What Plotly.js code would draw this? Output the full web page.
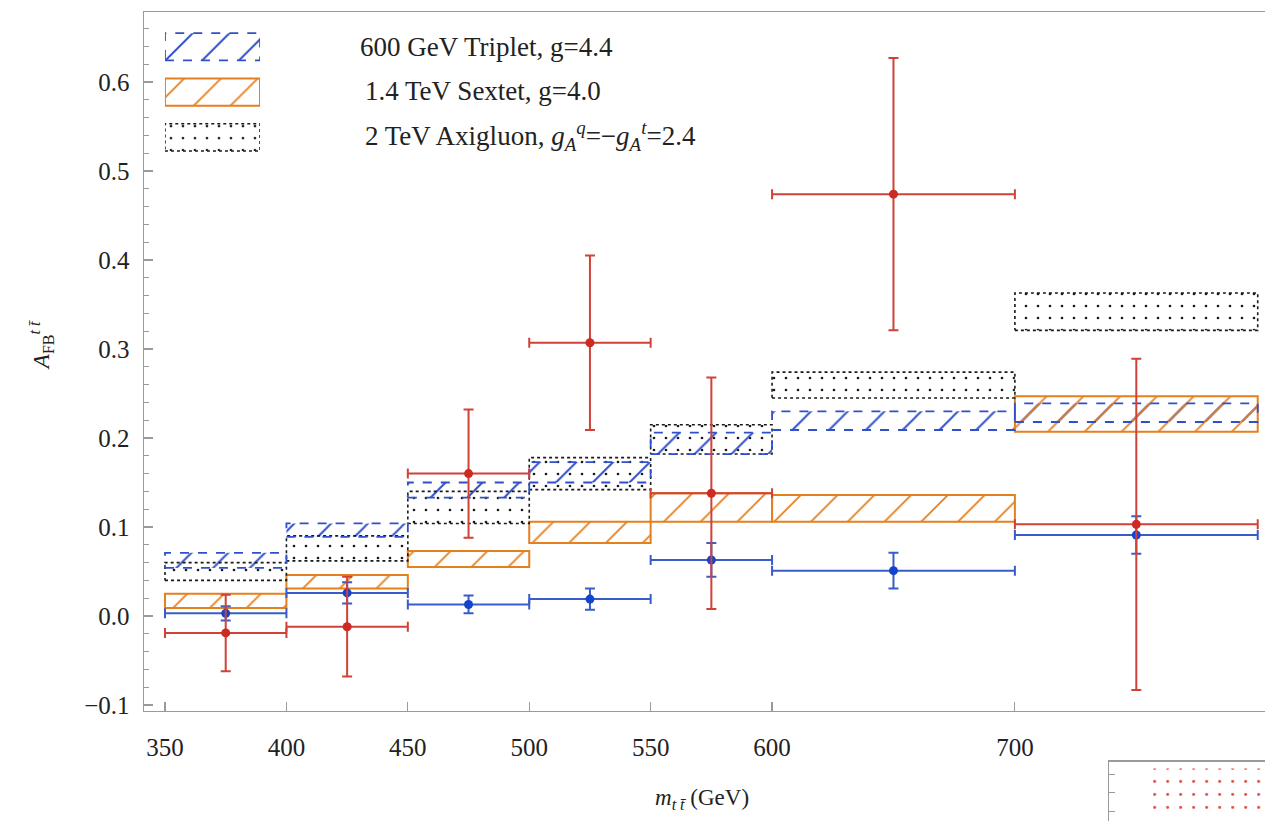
<!DOCTYPE html>
<html>
<head>
<meta charset="utf-8">
<script src="https://cdn.plot.ly/plotly-3.0.1.min.js"></script>
<style>html,body{margin:0;padding:0;background:#fff;overflow:hidden}</style>
</head>
<body>
<div id="chart" style="width:1265px;height:821px"></div>
<script>
// ---- data ----
const binLo = [350, 400, 450, 500, 550, 600, 700];
const binHi = [400, 450, 500, 550, 600, 700, 800];
const xTicks = [350, 400, 450, 500, 550, 600, 700];

// measured (red) and SM (blue) points
const redY   = [-0.019, -0.012, 0.160, 0.307, 0.138, 0.474, 0.103];
const redErr = [0.043, 0.056, 0.072, 0.098, 0.130, 0.153, 0.186];
const blueY   = [0.003, 0.026, 0.013, 0.019, 0.063, 0.051, 0.091];
const blueErr = [0.008, 0.012, 0.010, 0.012, 0.019, 0.020, 0.021];

// model bands
const triLo = [0.054, 0.089, 0.133, 0.150, 0.182, 0.209, 0.218];
const triHi = [0.071, 0.104, 0.150, 0.173, 0.206, 0.230, 0.239];
const sexLo = [0.009, 0.031, 0.055, 0.082, 0.106, 0.106, 0.207];
const sexHi = [0.025, 0.046, 0.073, 0.106, 0.138, 0.136, 0.247];
const axiLo = [0.040, 0.062, 0.104, 0.142, 0.182, 0.245, 0.321];
const axiHi = [0.060, 0.090, 0.140, 0.178, 0.215, 0.274, 0.363];

const legendNames = [
  '600 GeV Triplet, g=4.4',
  '1.4 TeV Sextet, g=4.0',
  '2 TeV Axigluon, <i>g</i><sub><i>A</i></sub><sup><i>q</i></sup>=\u2212<i>g</i><sub><i>A</i></sub><sup><i>t</i></sup>=2.4'
];

// ---- styles ----
const FONT = 'Liberation Serif';
const BLUE_H = '#2f50c8', ORANGE = '#e5801f', BLACK = '#1a1a1a';
const RED_L = '#d04238', RED_M = '#cc2a22', BLUE_L = '#3a5cc8', BLUE_M = '#1444cc';

const centers = binLo.map((l, i) => (l + binHi[i]) / 2);
const widths = binLo.map((l, i) => binHi[i] - l);
const halfW = widths.map(w => w / 2);

function band(lo, hi, color, shape, size, sol, lineW, xa, ya, xs, ws, bg) {
  return {
    type: 'bar', x: xs, width: ws, base: lo, y: hi.map((h, i) => h - lo[i]),
    xaxis: xa, yaxis: ya, hoverinfo: 'skip', cliponaxis: false,
    marker: {color: bg || 'rgba(0,0,0,0)', line: {width: lineW, color: color},
      pattern: {shape: shape, fgcolor: color, fgopacity: 1, bgcolor: 'rgba(0,0,0,0)', size: size, solidity: sol, fillmode: 'overlay'}}
  };
}
function border(lo, hi, x0s, x1s, color, dash, w, xa, ya) {
  const X = [], Y = [];
  lo.forEach((l, i) => {
    X.push(x0s[i], x1s[i], x1s[i], x0s[i], x0s[i], null);
    Y.push(l, l, hi[i], hi[i], l, null);
  });
  return {type: 'scatter', mode: 'lines', x: X, y: Y, xaxis: xa, yaxis: ya, hoverinfo: 'skip',
    cliponaxis: false, line: {color: color, dash: dash, width: w}};
}

const traces = [];
// axigluon (black dotted)
traces.push(band(axiLo, axiHi, BLACK, '.', 12, 0.04, 0, 'x', 'y', centers, widths));
traces.push(border(axiLo, axiHi, binLo, binHi, BLACK, 'dot', 1.6, 'x', 'y'));
// triplet (blue dashed)
traces.push(band(triLo, triHi, BLUE_H, '/', 26, 0.075, 0, 'x', 'y', centers, widths));
traces.push(border(triLo, triHi, binLo, binHi, BLUE_H, 'dash', 1.8, 'x', 'y'));
// sextet (orange solid)
traces.push(band(sexLo, sexHi, ORANGE, '/', 26, 0.07, 2, 'x', 'y', centers, widths, 'rgba(255,220,180,0.15)'));

// blue points
traces.push({type: 'scatter', mode: 'markers', x: centers, y: blueY, xaxis: 'x', yaxis: 'y',
  marker: {color: BLUE_M, size: 9},
  error_x: {type: 'data', array: halfW, color: BLUE_L, thickness: 2, width: 5},
  error_y: {type: 'data', array: blueErr, color: BLUE_L, thickness: 2, width: 5}, hoverinfo: 'skip'});
// red points
traces.push({type: 'scatter', mode: 'markers', x: centers, y: redY, xaxis: 'x', yaxis: 'y',
  marker: {color: RED_M, size: 9},
  error_x: {type: 'data', array: halfW, color: RED_L, thickness: 2, width: 5},
  error_y: {type: 'data', array: redErr, color: RED_L, thickness: 2, width: 5}, hoverinfo: 'skip'});

// legend swatches (own hidden axes)
const rowOf = i => 2.5 - i;
const legX = [0.5], legW = [1];
const legLo = legendNames.map((_, i) => rowOf(i) - 0.3);
const legHi = legendNames.map((_, i) => rowOf(i) + 0.3);
traces.push(band([legLo[0]], [legHi[0]], BLUE_H, '/', 26, 0.075, 0, 'x3', 'y3', legX, legW));
traces.push(border([legLo[0]], [legHi[0]], [0], [1], BLUE_H, 'dash', 1.8, 'x3', 'y3'));
traces.push(band([legLo[1]], [legHi[1]], ORANGE, '/', 26, 0.07, 2, 'x3', 'y3', legX, legW, 'rgba(255,220,180,0.15)'));
traces.push(band([legLo[2]], [legHi[2]], BLACK, '.', 12, 0.04, 0, 'x3', 'y3', legX, legW));
traces.push(border([legLo[2]], [legHi[2]], [0], [1], BLACK, 'dot', 1.6, 'x3', 'y3'));

// cropped inset (bottom right)
traces.push(band([-0.3], [2.3], '#d84a40', '.', 13, 0.04, 0, 'x2', 'y2', [0.62], [0.76]));

const tickFont = {family: FONT, size: 25, color: '#222'};
const axisLine = '#9a9a9a';

const annotations = legendNames.map((t, i) => ({
  text: t, xref: 'paper', yref: 'paper', x: i === 0 ? 0.1905 : 0.195,
  y: [0.957, 0.902, 0.847][i], xanchor: 'left', yanchor: 'middle', showarrow: false,
  font: {family: FONT, size: 27, color: '#222'}
}));
annotations.push({
  text: '<i>A</i><sub>FB</sub><sup><i>t t\u0304</i></sup>', xref: 'paper', yref: 'paper',
  x: -0.092, y: 0.588, textangle: -90, showarrow: false, xanchor: 'center', yanchor: 'middle',
  font: {family: FONT, size: 23, color: '#222'}
});
annotations.push({
  text: '<i>m</i><sub><i>t t\u0304</i></sub> (GeV)', xref: 'paper', yref: 'paper',
  x: 0.498, y: 0.027, showarrow: false, xanchor: 'center', yanchor: 'middle',
  font: {family: FONT, size: 23, color: '#222'}
});

const layout = {
  width: 1265, height: 821, margin: {l: 144, r: 0, t: 12, b: 0},
  paper_bgcolor: '#fff', plot_bgcolor: 'rgba(0,0,0,0)', showlegend: false, barmode: 'overlay',
  xaxis: {domain: [0, 1], range: [341.35, 803], tickvals: xTicks, ticks: 'inside', ticklen: 9,
    tickcolor: axisLine, tickwidth: 1.2, showline: true, linecolor: axisLine, linewidth: 1.5, mirror: true,
    showgrid: false, zeroline: false, tickfont: tickFont, ticklabelstandoff: 14, anchor: 'y'},
  yaxis: {domain: [0.136, 1], range: [-0.1067, 0.6787], dtick: 0.1, tick0: 0, tickformat: '.1f',
    ticks: 'inside', ticklen: 9, tickcolor: axisLine, tickwidth: 1.2,
    minor: {dtick: 0.02, tick0: 0, ticks: 'inside', ticklen: 5, tickcolor: axisLine, showgrid: false},
    showline: true, linecolor: axisLine, linewidth: 1.5, zeroline: false, showgrid: false,
    tickfont: tickFont, ticklabelstandoff: 8, anchor: 'x'},
  xaxis2: {domain: [0.861, 1], range: [0, 1], anchor: 'y2', showline: true, mirror: true,
    linecolor: axisLine, linewidth: 1.5, showticklabels: false, ticks: '', showgrid: false, zeroline: false},
  yaxis2: {domain: [0, 0.073], range: [-0.5, 2.65], anchor: 'x2', showline: true, linecolor: axisLine,
    linewidth: 1.5, tickvals: [0, 1, 2], ticks: 'inside', ticklen: 6, tickcolor: axisLine,
    showticklabels: false, showgrid: false, zeroline: false},
  xaxis3: {domain: [0.0187, 0.1035], range: [0, 1], anchor: 'y3', visible: false},
  yaxis3: {domain: [0.817, 0.985], range: [0, 3], anchor: 'x3', visible: false},
  annotations: annotations
};

Plotly.newPlot('chart', traces, layout, {staticPlot: true, displayModeBar: false});
</script>
</body>
</html>
